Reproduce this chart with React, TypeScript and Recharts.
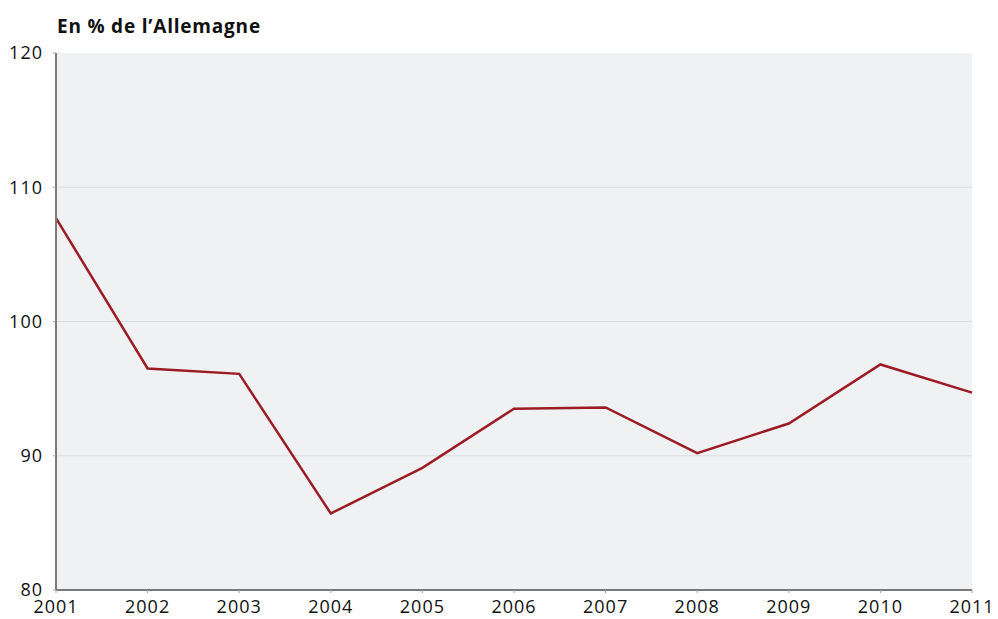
import { LineChart, Line, XAxis, YAxis, CartesianGrid } from 'recharts'

const years = ['2001', '2002', '2003', '2004', '2005', '2006', '2007', '2008', '2009', '2010', '2011']
const values = [107.7, 96.5, 96.1, 85.7, 89.1, 93.5, 93.6, 90.2, 92.4, 96.8, 94.7]
const yTicks = [80, 90, 100, 110, 120]

const data = years.map((year, i) => ({ year, value: values[i] }))

const font = '"Open Sans", sans-serif'
const tickStyle = { fill: '#111', fontSize: 18, fontFamily: font, letterSpacing: 1 }

export default function App() {
  return (
    <div style={{ position: 'absolute', left: 0, top: 0, width: 998, height: 619, background: '#fff', fontFamily: font }}>
      <div
        style={{
          position: 'absolute',
          left: 57,
          top: 13,
          fontSize: 19,
          fontWeight: 700,
          letterSpacing: 0.8,
          color: '#111',
        }}
      >
        En % de l’Allemagne
      </div>
      <LineChart width={998} height={619} data={data} margin={{ top: 53, right: 26, bottom: 0, left: 0 }}>
        <CartesianGrid fill="#f0f1f3" stroke="#dcdde0" vertical={false} horizontalValues={[90, 100, 110]} />
        <XAxis
          dataKey="year"
          height={29}
          interval={0}
          padding={{ left: 0, right: 0 }}
          tickSize={3}
          tickMargin={7}
          axisLine={{ stroke: '#7a7a7a', strokeWidth: 2 }}
          tickLine={{ stroke: '#a0a0a0' }}
          tick={tickStyle}
        />
        <YAxis
          width={56}
          domain={[80, 120]}
          ticks={yTicks}
          interval={0}
          tickSize={3}
          tickMargin={10}
          axisLine={{ stroke: '#7a7a7a', strokeWidth: 2 }}
          tickLine={{ stroke: '#a0a0a0' }}
          tick={tickStyle}
        />
        <Line type="linear" dataKey="value" stroke="#9b1c24" strokeWidth={2.5} dot={false} isAnimationActive={false} />
      </LineChart>
    </div>
  )
}
